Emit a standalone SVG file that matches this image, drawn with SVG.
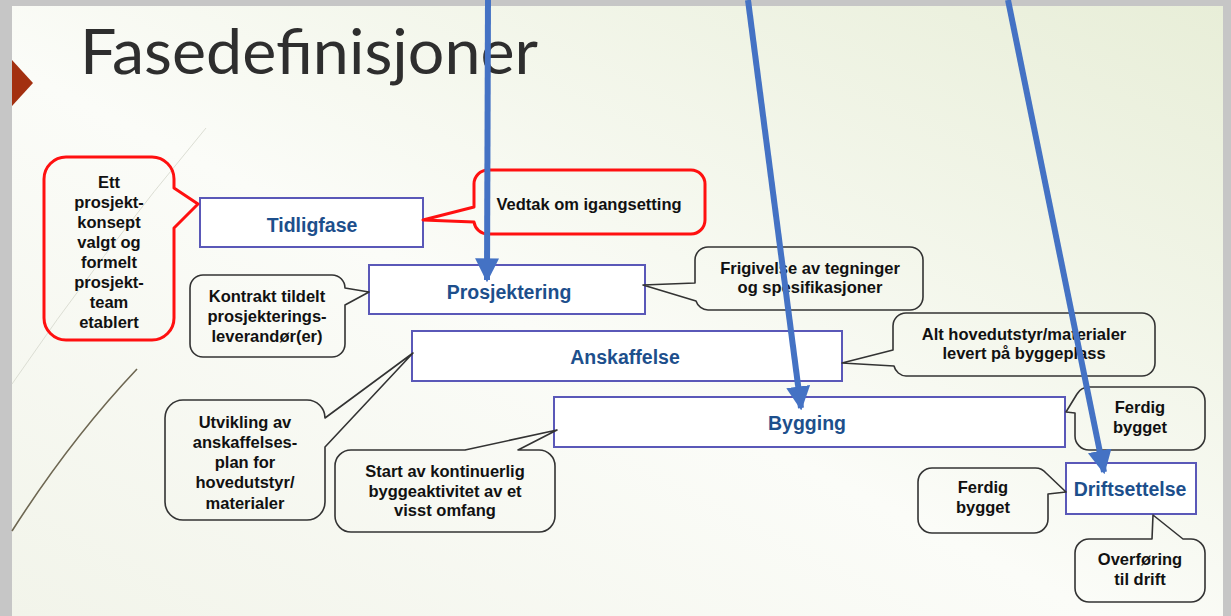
<svg xmlns="http://www.w3.org/2000/svg" width="1231" height="616" viewBox="0 0 1231 616">
<defs>
<linearGradient id="bg" x1="0" y1="1" x2="1" y2="0">
<stop offset="0" stop-color="#f2f4ea"/>
<stop offset="0.45" stop-color="#fbfcf8"/>
<stop offset="1" stop-color="#e8eed8"/>
</linearGradient>
<marker id="ah" viewBox="0 0 10 10" refX="9" refY="5" markerWidth="4" markerHeight="4" orient="auto" markerUnits="strokeWidth">
<path d="M0,0 L10,5 L0,10 Z" fill="#4472c4"/>
</marker>
<style>
.node rect{fill:#fff;stroke:#5a58b8;stroke-width:2}
.node text{font-family:"Liberation Sans",Arial,sans-serif;font-weight:bold;font-size:19.5px;fill:#1d4f8c;text-anchor:middle}
.call path{fill:none;stroke:#333;stroke-width:1.6;stroke-linejoin:round}
.call.red path{stroke:#ff1010;stroke-width:3}
.call text{font-family:"Liberation Sans",Arial,sans-serif;font-weight:bold;font-size:16.5px;fill:#111;text-anchor:middle}
.arrow{stroke:#4472c4;stroke-width:6;fill:none}
</style>
</defs>
<rect width="1231" height="616" fill="#c6c6c6"/>
<rect x="12" y="6" width="1211" height="610" fill="url(#bg)"/>
<path d="M12,531 Q70,440 137,369" fill="none" stroke="#6e6752" stroke-width="1.6"/>
<path d="M12,384 Q100,255 206,128" fill="none" stroke="#dcded4" stroke-width="1"/>
<polygon points="12,60 33,83 12,106" fill="#a33010"/>
<text x="80" y="74" font-family="Lato,'Liberation Sans',Arial,sans-serif" font-weight="400" font-size="61" fill="#2e2e2e" textLength="458" lengthAdjust="spacingAndGlyphs">Fasedefinisjoner</text>

<g id="n-tidligfase" class="node"><rect x="200" y="198" width="223" height="49"/><text x="312" y="232">Tidligfase</text></g>
<g id="n-prosjektering" class="node"><rect x="369" y="265" width="276" height="49"/><text x="509" y="299">Prosjektering</text></g>
<g id="n-anskaffelse" class="node"><rect x="412" y="331" width="430" height="50"/><text x="625" y="364">Anskaffelse</text></g>
<g id="n-bygging" class="node"><rect x="554" y="397" width="511" height="50"/><text x="807" y="430">Bygging</text></g>
<g id="n-driftsettelse" class="node"><rect x="1066" y="463" width="130" height="51"/><text x="1130" y="496">Driftsettelse</text></g>

<g id="c-ett" class="call red">
<path d="M66,157 H152 A22,22 0 0 1 174,179 V188 L198,204 L174,228 V318 A22,22 0 0 1 152,340 H66 A22,22 0 0 1 44,318 V179 A22,22 0 0 1 66,157 Z"/>
<text x="109" y="188">Ett</text><text x="109" y="208">prosjekt-</text><text x="109" y="228">konsept</text><text x="109" y="248">valgt og</text><text x="109" y="268">formelt</text><text x="109" y="288">prosjekt-</text><text x="109" y="308">team</text><text x="109" y="328">etablert</text>
</g>
<g id="c-vedtak" class="call red">
<path d="M488,170 H691 A14,14 0 0 1 705,184 V220 A14,14 0 0 1 691,234 H488 A14,14 0 0 1 474,222 L423,220 L474,207 V184 A14,14 0 0 1 488,170 Z"/>
<text x="589" y="210">Vedtak om igangsetting</text>
</g>
<g id="c-kontrakt" class="call">
<path d="M203,275 H332 A13,13 0 0 1 345,288 L369,292 L345,305 V344 A13,13 0 0 1 332,357 H203 A13,13 0 0 1 190,344 V288 A13,13 0 0 1 203,275 Z"/>
<text x="267" y="302">Kontrakt tildelt</text><text x="267" y="322">prosjekterings-</text><text x="267" y="342">leverandør(er)</text>
</g>
<g id="c-frigivelse" class="call">
<path d="M708,247 H910 A13,13 0 0 1 923,260 V297 A13,13 0 0 1 910,310 H708 A13,13 0 0 1 696,301 L643,285 L695,283 V260 A13,13 0 0 1 708,247 Z"/>
<text x="810" y="274">Frigivelse av tegninger</text><text x="810" y="293">og spesifikasjoner</text>
</g>
<g id="c-alt" class="call">
<path d="M906,313 H1142 A13,13 0 0 1 1155,326 V363 A13,13 0 0 1 1142,376 H906 A13,13 0 0 1 894,366 L842,363 L893,350 V326 A13,13 0 0 1 906,313 Z"/>
<text x="1024" y="340">Alt hovedutstyr/materialer</text><text x="1024" y="359">levert på byggeplass</text>
</g>
<g id="c-utvikling" class="call">
<path d="M183,400 H307 A18,18 0 0 1 325,418 L413,353 L325,447 V502 A18,18 0 0 1 307,520 H183 A18,18 0 0 1 165,502 V418 A18,18 0 0 1 183,400 Z"/>
<text x="245" y="428">Utvikling av</text><text x="245" y="448">anskaffelses-</text><text x="245" y="468">plan for</text><text x="245" y="488">hovedutstyr/</text><text x="245" y="509">materialer</text>
</g>
<g id="c-start" class="call">
<path d="M351,450 H465 L557,430 L518,450 H539 A16,16 0 0 1 555,466 V516 A16,16 0 0 1 539,532 H351 A16,16 0 0 1 335,516 V466 A16,16 0 0 1 351,450 Z"/>
<text x="445" y="477">Start av kontinuerlig</text><text x="445" y="497">byggeaktivitet av et</text><text x="445" y="516">visst omfang</text>
</g>
<g id="c-ferdig1" class="call">
<path d="M1089,387 H1191 A14,14 0 0 1 1205,401 V436 A14,14 0 0 1 1191,450 H1089 A14,14 0 0 1 1075,436 V413 L1066,412 L1077,394 A14,14 0 0 1 1089,387 Z"/>
<text x="1140" y="413">Ferdig</text><text x="1140" y="433">bygget</text>
</g>
<g id="c-ferdig2" class="call">
<path d="M932,468 H1034 A14,14 0 0 1 1046,473 L1066,492 L1048,494 V519 A14,14 0 0 1 1034,533 H932 A14,14 0 0 1 918,519 V482 A14,14 0 0 1 932,468 Z"/>
<text x="983" y="493">Ferdig</text><text x="983" y="513">bygget</text>
</g>
<g id="c-overforing" class="call">
<path d="M1089,539 H1152 L1153,515 L1183,539 H1191 A14,14 0 0 1 1205,553 V588 A14,14 0 0 1 1191,602 H1089 A14,14 0 0 1 1075,588 V553 A14,14 0 0 1 1089,539 Z"/>
<text x="1140" y="565">Overføring</text><text x="1140" y="585">til drift</text>
</g>

<g id="connectors">
<line class="arrow" x1="488" y1="0" x2="487" y2="280" marker-end="url(#ah)"/>
<line class="arrow" x1="748" y1="0" x2="801" y2="408" marker-end="url(#ah)"/>
<line class="arrow" x1="1008" y1="0" x2="1104" y2="472" marker-end="url(#ah)"/>
</g>
</svg>
